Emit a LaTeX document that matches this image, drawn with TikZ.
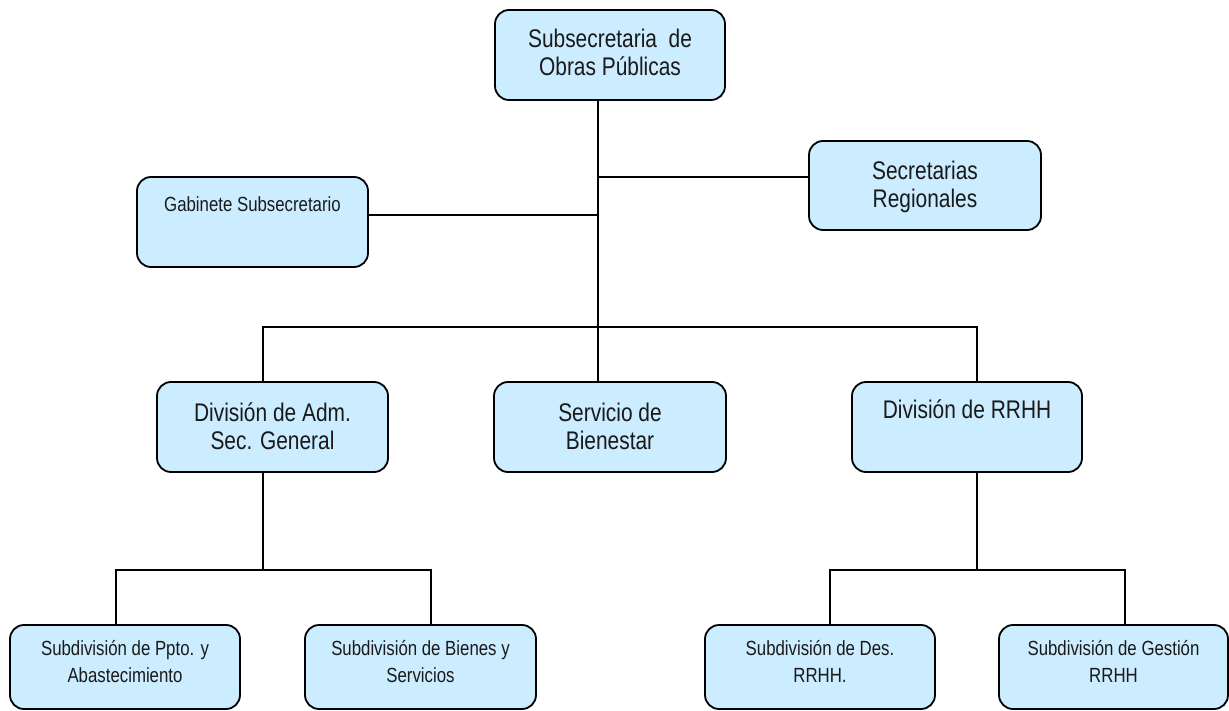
\documentclass[tikz,border=0pt]{standalone}
\usepackage{fontspec}
\setmainfont[FakeStretch=0.82]{Liberation Sans}
\definecolor{boxfill}{HTML}{CCECFF}
\definecolor{inkc}{HTML}{1A1A1A}
\newcommand{\twolines}[2]{\begin{tabular}[t]{@{}c@{}}#1\\#2\end{tabular}}
\begin{document}
\begin{tikzpicture}[x=1pt,y=-1pt,
  orgbox/.style={draw=black, line width=1.8pt, fill=boxfill, rounded corners=14pt,
    inner sep=0pt, outer sep=0pt, minimum width=230pt, minimum height=90pt},
  lowbox/.style={orgbox, minimum height=84pt},
  bigtxt/.style={font=\fontsize{25.5}{28}\selectfont, text=inkc, anchor=base, inner sep=0pt},
  smalltxt/.style={font=\fontsize{20.5}{27}\selectfont, text=inkc, anchor=base, inner sep=0pt},
  conn/.style={draw=black, line width=1.8pt}]
\useasboundingbox (0,0) rectangle (1229,711);
\fill[white] (0,0) rectangle (1229,711);

% boxes
\node[orgbox] (subsec) at (610,55) {};
\node[orgbox, minimum width=232pt, minimum height=89pt] (secr) at (925,185.5) {};
\node[orgbox, minimum width=231pt] (gab) at (252.5,222) {};
\node[orgbox, minimum width=231pt] (divadm) at (272.5,427) {};
\node[orgbox, minimum width=232pt] (serv) at (610,427) {};
\node[orgbox] (rrhh) at (967,427) {};
\node[lowbox] (ppto) at (125,667) {};
\node[lowbox, minimum width=231pt] (bienes) at (420.5,667) {};
\node[lowbox] (des) at (820,667) {};
\node[lowbox, minimum width=229pt] (gest) at (1113.5,667) {};

% texts
\node[bigtxt] (subsec-t) at (610,48) {\twolines{Subsecretaria\ \ de}{Obras Públicas}};
\node[bigtxt] (secr-t) at (925,180) {\twolines{Secretarias}{Regionales}};
\node[smalltxt] (gab-t) at (252.5,212) {Gabinete Subsecretario};
\node[bigtxt] (divadm-t) at (272.5,421) {\twolines{División de Adm.}{Sec. General}};
\node[bigtxt] (serv-t) at (610,421) {\twolines{Servicio de}{Bienestar}};
\node[bigtxt] (rrhh-t) at (967,418) {División de RRHH};
\node[smalltxt] (ppto-t) at (125,655) {\twolines{Subdivisión de Ppto. y}{Abastecimiento}};
\node[smalltxt] (bienes-t) at (420.5,655) {\twolines{Subdivisión de Bienes y}{Servicios}};
\node[smalltxt] (des-t) at (820,655) {\twolines{Subdivisión de Des.}{RRHH.}};
\node[smalltxt] (gest-t) at (1113.5,655) {\twolines{Subdivisión de Gestión}{RRHH}};

% junction points
\coordinate (t0) at (598,327);
\coordinate (bs) at (598,177);
\coordinate (bg) at (598,215);
\coordinate (hl) at (263,327);
\coordinate (hr) at (977,327);
\coordinate (a0) at (263,570);
\coordinate (a1) at (116,570);
\coordinate (a2) at (431,570);
\coordinate (r0) at (977,570);
\coordinate (r1) at (830,570);
\coordinate (r2) at (1125,570);

% connectors
\draw[conn] (subsec.south -| t0) -- (t0);
\draw[conn] (bs) -- (bs -| secr.west);
\draw[conn] (gab.east |- bg) -- (bg);
\draw[conn] (divadm.north -| hl) -- (hl) -- (hr) -- (rrhh.north -| hr);
\draw[conn] (t0) -- (serv.north -| t0);
\draw[conn] (divadm.south -| a0) -- (a0);
\draw[conn] (ppto.north -| a1) -- (a1) -- (a2) -- (bienes.north -| a2);
\draw[conn] (rrhh.south -| r0) -- (r0);
\draw[conn] (des.north -| r1) -- (r1) -- (r2) -- (gest.north -| r2);
\end{tikzpicture}
\end{document}
